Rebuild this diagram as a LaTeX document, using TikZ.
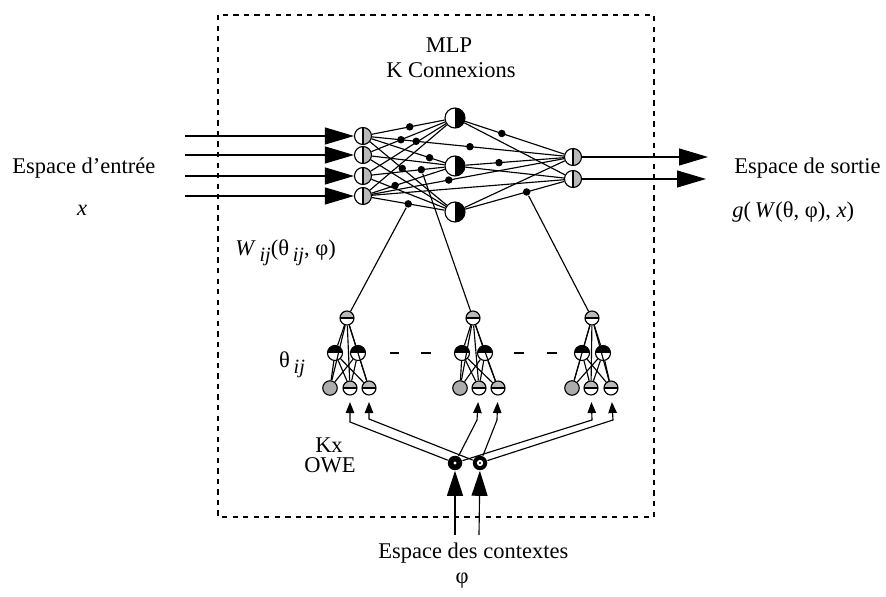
\documentclass[tikz,border=0pt]{standalone}
\usepackage{fontspec}
\setmainfont{Liberation Serif}
\usetikzlibrary{arrows.meta}

\newcommand{\lowsub}[1]{\raisebox{-0.55ex}{\fontsize{11.5}{13}\selectfont\textit{#1}}}

\tikzset{
	inunit/.style = {draw, circle, minimum size = 0.34cm, inner sep = 0pt, fill = white,
		path picture = {\fill [gray!55] (path picture bounding box.north) rectangle (path picture bounding box.south east);
			\draw (path picture bounding box.north) -- (path picture bounding box.south);}},
	hidunit/.style = {draw, circle, minimum size = 0.4cm, inner sep = 0pt, fill = white,
		path picture = {\fill [black] (path picture bounding box.north) rectangle (path picture bounding box.south east);}},
	topunit/.style = {draw, circle, minimum size = 0.28cm, inner sep = 0pt, fill = white,
		path picture = {\fill [gray!55] (path picture bounding box.west) rectangle (path picture bounding box.north east);
			\draw (path picture bounding box.west) -- (path picture bounding box.east);}},
	midunit/.style = {draw, circle, minimum size = 0.3cm, inner sep = 0pt, fill = white,
		path picture = {\fill [black] (path picture bounding box.west) rectangle (path picture bounding box.north east);}},
	biasunit/.style = {draw, circle, minimum size = 0.29cm, inner sep = 0pt, fill = gray!65},
	ctxunit/.style = {circle, minimum size = 0.29cm, inner sep = 0pt, fill = black},
	wdot/.style = {circle, fill = black, minimum size = 0.15cm, inner sep = 0pt},
	bigarrow/.style = {-{Triangle[length = 0.58cm, width = 0.34cm]}},
	ctxarrow/.style = {-{Triangle[length = 0.5cm, width = 0.32cm]}},
	wirearrow/.style = {-{Triangle[length = 0.22cm, width = 0.17cm]}, shorten > = 0.13cm}
}

\begin{document}
\begin{tikzpicture}[x = 0.02cm, y = -0.02cm, line width = 0.65pt, font = \fontsize{12.8}{15}\selectfont]
	\useasboundingbox (0, 0) rectangle (886, 597);

	\draw [dashed] (218, 15) rectangle (654, 517);

	\coordinate (in1) at (185, 136);
	\coordinate (in2) at (185, 155);
	\coordinate (in3) at (185, 176);
	\coordinate (in4) at (185, 196);
	\coordinate (out1) at (708, 157);
	\coordinate (out2) at (706, 179);
	\coordinate (ctx1) at (455, 535);
	\coordinate (ctx2) at (479, 535);

	\coordinate (kA2) at (350, 422);
	\coordinate (kA3) at (369, 419);
	\coordinate (kB2) at (477, 420);
	\coordinate (kB3) at (497, 420);
	\coordinate (kC2) at (592, 420);
	\coordinate (kC3) at (613, 420);

	% MLP
	\node [inunit] (I1) at (363, 136) {};
	\node [inunit] (I2) at (363, 155) {};
	\node [inunit] (I3) at (363, 176) {};
	\node [inunit] (I4) at (363, 196) {};
	\node [hidunit] (H1) at (455, 118) {};
	\node [hidunit] (H2) at (455, 166) {};
	\node [hidunit] (H3) at (455, 212) {};
	\node [inunit] (O1) at (573, 157) {};
	\node [inunit] (O2) at (573, 179) {};

	\draw [bigarrow] (in1) -- (I1);
	\draw [bigarrow] (in2) -- (I2);
	\draw [bigarrow] (in3) -- (I3);
	\draw [bigarrow] (in4) -- (I4);
	\draw [bigarrow] (O1) -- (out1);
	\draw [bigarrow] (O2) -- (out2);

	\draw (I1) -- node [wdot, pos = 0.52] {} (H1);
	\draw (I1) -- node [wdot, pos = 0.79] {} (H2);
	\draw (I1) -- node [wdot, pos = 0.42] {} (H3);
	\draw (I2) -- node [wdot, pos = 0.4] {} (H1);
	\draw (I2) -- (H2);
	\draw (I2) -- (H3);
	\draw (I3) -- (H1);
	\draw (I3) -- node [wdot, pos = 0.68] (wB) {} (H2);
	\draw (I3) -- (H3);
	\draw (I4) -- (H1);
	\draw (I4) -- node [wdot, pos = 0.32] {} (H2);
	\draw (I4) -- node [wdot, pos = 0.5] (wA) {} (H3);
	\draw (I1) -- node [wdot, pos = 0.23] {} node [wdot, pos = 0.51] {} (O1);
	\draw (I4) -- node [wdot, pos = 0.4] {} (O1);
	\draw (I4) -- (O2);
	\draw (H1) -- node [wdot, pos = 0.37] {} (O1);
	\draw (H1) -- (O2);
	\draw (H2) -- node [wdot, pos = 0.34] {} (O1);
	\draw (H2) -- (O2);
	\draw (H3) -- (O1);
	\draw (H3) -- node [wdot, pos = 0.62] (wC) {} (O2);

	% OWE networks
	\node [topunit] (At) at (347, 318) {};
	\node [midunit] (Am1) at (335, 353) {};
	\node [midunit] (Am2) at (358, 353) {};
	\node [biasunit] (A1) at (330, 388) {};
	\node [topunit] (A2) at (350, 388) {};
	\node [topunit] (A3) at (369, 388) {};

	\node [topunit] (Bt) at (473, 318) {};
	\node [midunit] (Bm1) at (462, 353) {};
	\node [midunit] (Bm2) at (485, 353) {};
	\node [biasunit] (B1) at (460, 388) {};
	\node [topunit] (B2) at (479, 388) {};
	\node [topunit] (B3) at (498, 388) {};

	\node [topunit] (Ct) at (592, 318) {};
	\node [midunit] (Cm1) at (582, 353) {};
	\node [midunit] (Cm2) at (603, 353) {};
	\node [biasunit] (C1) at (572, 388) {};
	\node [topunit] (C2) at (591, 388) {};
	\node [topunit] (C3) at (611, 388) {};

	\draw (wA) -- (At);
	\draw (wB) -- (Bt);
	\draw (wC) -- (Ct);

	\draw (At) -- (Am1); \draw (At) -- (Am2);
	\draw (At) -- (A1); \draw (At) -- (A2); \draw (At) -- (A3);
	\draw (Am1) -- (A1); \draw (Am1) -- (A2); \draw (Am1) -- (A3);
	\draw (Am2) -- (A1); \draw (Am2) -- (A2); \draw (Am2) -- (A3);

	\draw (Bt) -- (Bm1); \draw (Bt) -- (Bm2);
	\draw (Bt) -- (B1); \draw (Bt) -- (B2); \draw (Bt) -- (B3);
	\draw (Bm1) -- (B1); \draw (Bm1) -- (B2); \draw (Bm1) -- (B3);
	\draw (Bm2) -- (B1); \draw (Bm2) -- (B2); \draw (Bm2) -- (B3);

	\draw (Ct) -- (Cm1); \draw (Ct) -- (Cm2);
	\draw (Ct) -- (C1); \draw (Ct) -- (C2); \draw (Ct) -- (C3);
	\draw (Cm1) -- (C1); \draw (Cm1) -- (C2); \draw (Cm1) -- (C3);
	\draw (Cm2) -- (C1); \draw (Cm2) -- (C2); \draw (Cm2) -- (C3);

	\draw [line width = 1.5pt] (390, 353) -- (399, 353);
	\draw [line width = 1.5pt] (421, 353) -- (431, 353);
	\draw [line width = 1.5pt] (514, 353) -- (524, 353);
	\draw [line width = 1.5pt] (547, 353) -- (557, 353);

	% context inputs
	\node [ctxunit, path picture = {\fill [white] (path picture bounding box.center) circle (0.9pt);}] (X1) at (455, 463) {};
	\node [ctxunit, path picture = {\fill [white] (path picture bounding box.center) circle (1.8pt);
		\fill [black] (path picture bounding box.center) circle (0.6pt);}] (X2) at (480, 463) {};

	\draw [ctxarrow] (ctx1) -- (X1);
	\draw [ctxarrow] (ctx2) -- (X2);

	\draw [wirearrow] (X1) -- (kA2) -- (A2);
	\draw [wirearrow] (X1) -- (kB2) -- (B2);
	\draw [wirearrow] (X1) -- (kC2) -- (C2);
	\draw [wirearrow] (X2) -- (kA3) -- (A3);
	\draw [wirearrow] (X2) -- (kB3) -- (B3);
	\draw [wirearrow] (X2) -- (kC3) -- (C3);

	% labels
	\node (mlp) at (449, 45) {MLP};
	\node (kcon) at (451, 70) {K Connexions};
	\node [anchor = west] (espin) at (6, 168) {Espace d'entrée};
	\node (xin) at (82, 210) {\textit{x}};
	\node [anchor = west] (espout) at (728, 168) {Espace de sortie};
	\node [anchor = west] (gout) at (726, 212) {\textit{g}(\,\textit{W}(θ, φ), \textit{x})};
	\node [anchor = west] (wlab) at (229, 253) {\textit{W}\,\lowsub{ij}(θ\,\lowsub{ij}, φ)};
	\node (thlab) at (292, 365) {θ\,\lowsub{ij}};
	\node (kx) at (329, 445) {Kx};
	\node (owe) at (330, 465) {OWE};
	\node [anchor = west] (espctx) at (372, 553) {Espace des contextes};
	\node (phi) at (462, 581) {φ};
\end{tikzpicture}
\end{document}
